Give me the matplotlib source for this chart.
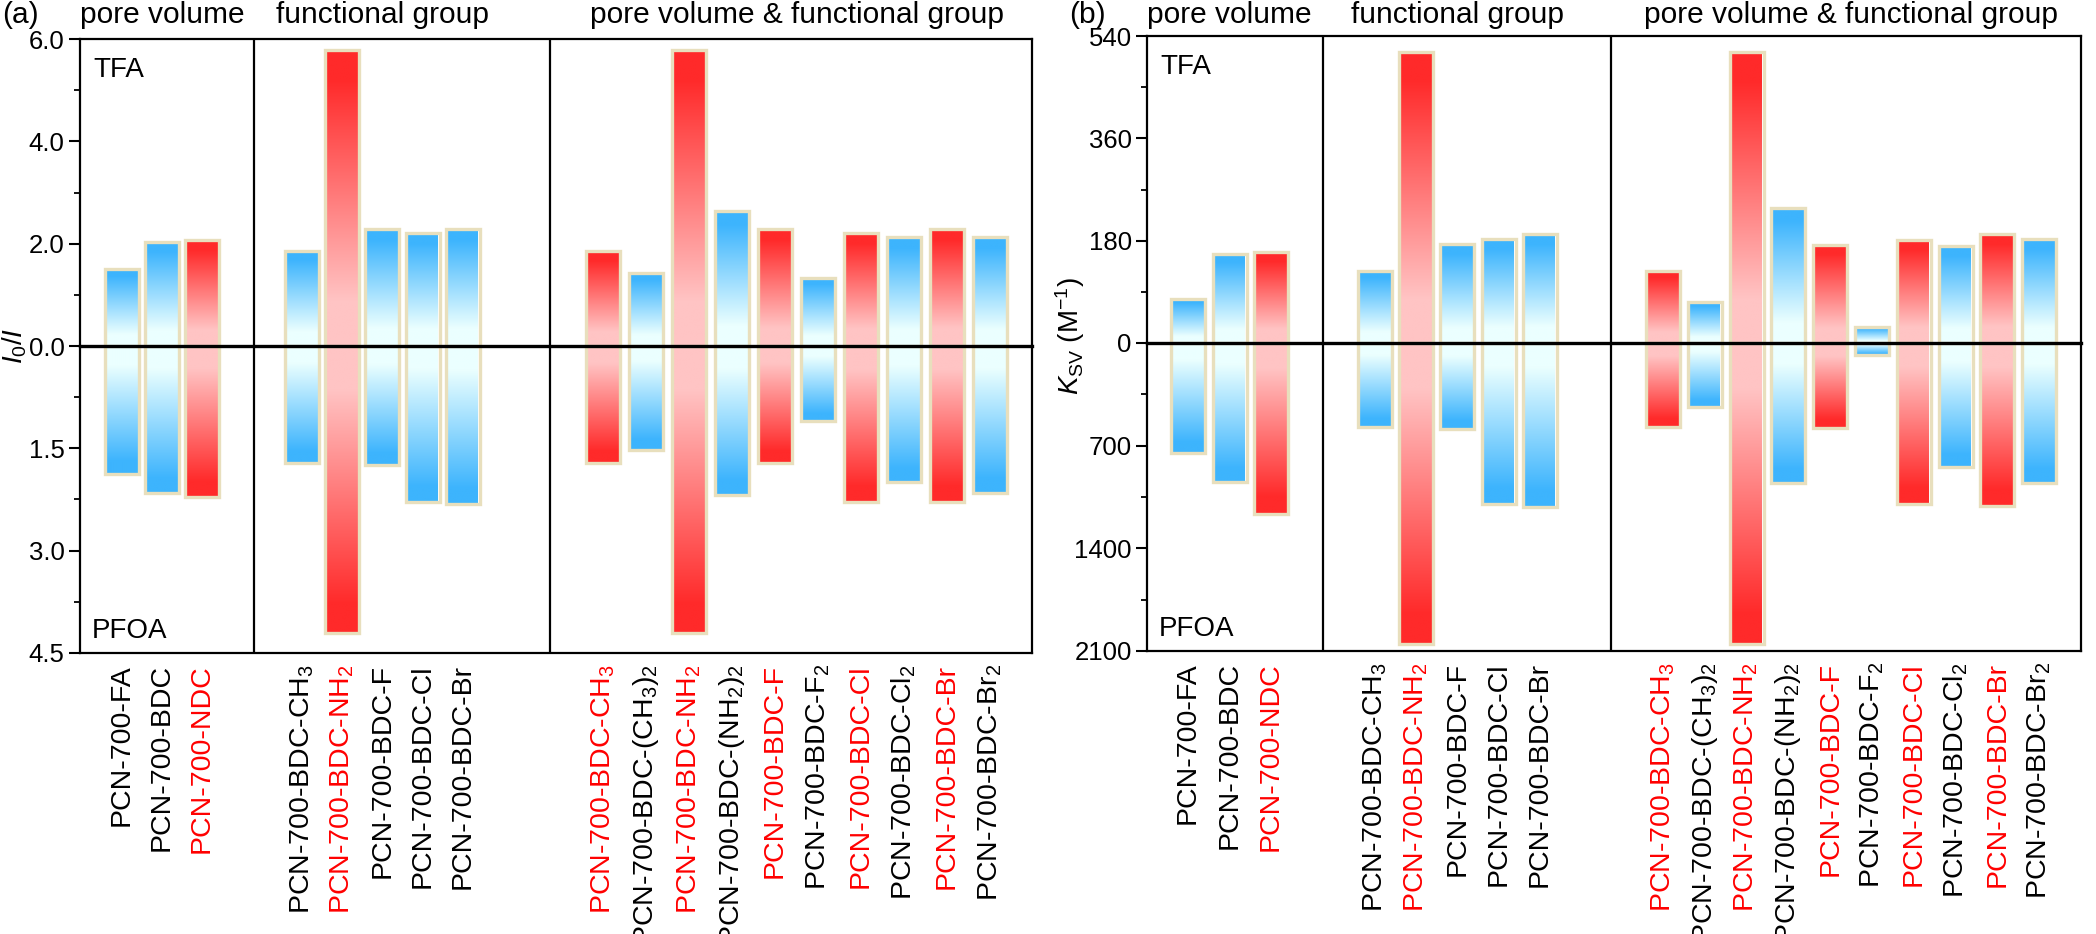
import numpy as np
import matplotlib
matplotlib.use('Agg')
import matplotlib.pyplot as plt
from matplotlib.colors import LinearSegmentedColormap
from matplotlib.patches import Rectangle
from matplotlib.ticker import MultipleLocator, FixedLocator

plt.rcParams['font.family'] = ['Liberation Sans', 'DejaVu Sans']
plt.rcParams['mathtext.fontset'] = 'custom'
plt.rcParams['mathtext.rm'] = 'Liberation Sans'
plt.rcParams['mathtext.it'] = 'Liberation Sans:italic'
plt.rcParams['mathtext.default'] = 'regular'

# ---- data ----
labels = ['PCN-700-FA', 'PCN-700-BDC', 'PCN-700-NDC',
          'PCN-700-BDC-CH$_3$', 'PCN-700-BDC-NH$_2$', 'PCN-700-BDC-F',
          'PCN-700-BDC-Cl', 'PCN-700-BDC-Br',
          'PCN-700-BDC-CH$_3$', 'PCN-700-BDC-(CH$_3$)$_2$', 'PCN-700-BDC-NH$_2$',
          'PCN-700-BDC-(NH$_2$)$_2$', 'PCN-700-BDC-F', 'PCN-700-BDC-F$_2$',
          'PCN-700-BDC-Cl', 'PCN-700-BDC-Cl$_2$', 'PCN-700-BDC-Br', 'PCN-700-BDC-Br$_2$']
group_names = ['pore volume', 'functional group', 'pore volume & functional group']
group_sizes = [3, 5, 10]
highlight = [0, 0, 1, 0, 1, 0, 0, 0, 1, 0, 1, 0, 1, 0, 1, 0, 1, 0]

a_tfa = [1.51, 2.04, 2.08, 1.86, 5.78, 2.29, 2.21, 2.29,
         1.85, 1.43, 5.78, 2.63, 2.29, 1.33, 2.21, 2.13, 2.29, 2.13]
a_pfoa = [1.87, 2.15, 2.22, 1.72, 4.20, 1.74, 2.29, 2.31,
          1.72, 1.53, 4.20, 2.18, 1.72, 1.10, 2.28, 2.00, 2.29, 2.15]
b_tfa = [78, 157, 160, 127, 512, 174, 183, 192,
         127, 72, 511, 238, 173, 28, 182, 170, 192, 183]
b_pfoa = [748, 947, 1167, 576, 2052, 583, 1098, 1119,
          570, 439, 2052, 954, 577, 82, 1098, 844, 1112, 954]

# ---- layout (x in pixel-like units of each panel) ----
W, H = 2096, 934
panels = [
    dict(tag='(a)', tfa=a_tfa, pfoa=a_pfoa, box=(80, 1032, 39, 346, 653),
         starts=[42, 222, 523], steps=[40, 40.2, 43], dividers=[174, 470],
         top_lim=6.0, top_major=2.0, top_minor=1.0, top_fmt='{:.1f}',
         bot_lim=4.5, bot_major=1.5, bot_minor=0.75, bot_fmt='{:.1f}',
         ylabel=r'$\mathit{I_0/I}$', ylab_x=15, ylab_y=346),
    dict(tag='(b)', tfa=b_tfa, pfoa=b_pfoa, box=(1147, 2081, 36, 343, 651),
         starts=[41, 228, 516], steps=[41.5, 41.2, 41.8], dividers=[176, 464],
         top_lim=540, top_major=180, top_minor=90, top_fmt='{:.0f}',
         bot_lim=2100, bot_major=700, bot_minor=350, bot_fmt='{:.0f}',
         ylabel=r'$\mathit{K}_{\mathrm{SV}}$ (M$^{-1}$)', ylab_x=1070, ylab_y=336),
]

blue_sat, blue_pale = '#3db4fd', '#ebffff'
red_sat, red_pale = '#ff2a2a', '#ffc4c4'
edge = '#e8dfbd'
cmap_blue = LinearSegmentedColormap.from_list('b', [(0, blue_pale), (0.15, blue_pale), (0.9, blue_sat), (1, blue_sat)])
cmap_red = LinearSegmentedColormap.from_list('r', [(0, red_pale), (0.15, red_pale), (0.9, red_sat), (1, red_sat)])
grad = np.linspace(0, 1, 256).reshape(-1, 1)

fs = 20.5
fig = plt.figure(figsize=(W / 100, H / 100), dpi=100)


def draw_bars(ax, xs, vals):
    for x, v, h in zip(xs, vals, highlight):
        cm = cmap_red if h else cmap_blue
        ax.imshow(grad, cmap=cm, origin='lower', aspect='auto',
                  extent=(x - 15.5, x + 15.5, 0, v), interpolation='bilinear', zorder=2)
        ax.add_patch(Rectangle((x - 17, 0), 34, v, facecolor='none', edgecolor=edge,
                               linewidth=2.4, zorder=3))


for p in panels:
    l, r, t, m, b = p['box']
    pw = r - l
    ax_t = fig.add_axes([l / W, 1 - m / H, pw / W, (m - t) / H])
    ax_b = fig.add_axes([l / W, 1 - b / H, pw / W, (b - m) / H])

    xs = []
    for s, st, n in zip(p['starts'], p['steps'], group_sizes):
        xs += [s + k * st for k in range(n)]

    draw_bars(ax_t, xs, p['tfa'])
    draw_bars(ax_b, xs, p['pfoa'])

    for ax in (ax_t, ax_b):
        ax.set_xlim(0, pw)
        for d in p['dividers']:
            ax.axvline(d, color='k', lw=1.6, zorder=4)
        for sp in ax.spines.values():
            sp.set_linewidth(1.6)
        ax.tick_params(axis='y', which='major', direction='out', length=8, width=1.5,
                       labelsize=18.5, pad=3)
        ax.tick_params(axis='y', which='minor', direction='out', length=4, width=1.3)

    ax_t.set_ylim(0, p['top_lim'])
    ax_t.spines['bottom'].set_visible(False)
    ax_t.yaxis.set_major_locator(MultipleLocator(p['top_major']))
    ax_t.yaxis.set_minor_locator(MultipleLocator(p['top_minor']))
    ax_t.yaxis.set_major_formatter(lambda v, pos, f=p['top_fmt']: f.format(v))
    ax_t.set_xticks([])

    ax_b.set_ylim(p['bot_lim'], 0)
    ax_b.spines['top'].set_visible(False)
    ax_b.yaxis.set_major_locator(FixedLocator(np.arange(p['bot_major'], p['bot_lim'] + 1e-6, p['bot_major'])))
    ax_b.yaxis.set_minor_locator(MultipleLocator(p['bot_minor']))
    ax_b.yaxis.set_major_formatter(lambda v, pos, f=p['bot_fmt']: f.format(v))
    ax_b.set_xticks(xs)
    ax_b.set_xticklabels(labels, rotation=90, fontsize=fs, va='top', ha='center')
    ax_b.tick_params(axis='x', length=0, pad=8)
    for lab, h in zip(ax_b.get_xticklabels(), highlight):
        lab.set_color('#ff0000' if h else 'black')
    # zero line across both halves, on top of the bars
    ax_b.axhline(0, color='k', lw=2.4, zorder=10, clip_on=False)

    ax_t.text(13 / pw, 0.875, 'TFA', transform=ax_t.transAxes, fontsize=20, va='baseline')
    ax_b.text(12 / pw, 0.05, 'PFOA', transform=ax_b.transAxes, fontsize=20, va='baseline')

    # group headers centred on the bars of each group
    i0 = 0
    for name, n in zip(group_names, group_sizes):
        cx = l + np.mean(xs[i0:i0 + n])
        fig.text(cx / W, 1 - 23 / H, name, fontsize=21.5, ha='center', va='baseline')
        i0 += n
    fig.text((l - 78) / W, 1 - 23 / H, p['tag'], fontsize=21.5, ha='left', va='baseline')
    fig.text(p['ylab_x'] / W, 1 - p['ylab_y'] / H, p['ylabel'], fontsize=20,
             rotation=90, ha='center', va='center')

fig.savefig('out.png', dpi=100)
